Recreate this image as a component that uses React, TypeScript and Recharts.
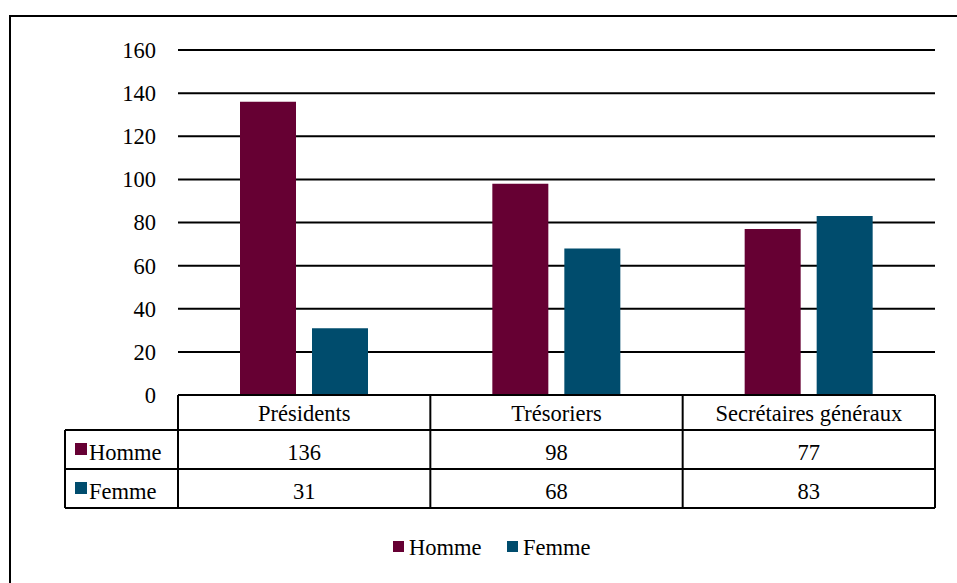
import { BarChart, Bar, YAxis, XAxis, CartesianGrid } from 'recharts';

const categories = ['Présidents', 'Trésoriers', 'Secrétaires généraux'];
const homme = [136, 98, 77];
const femme = [31, 68, 83];
const yTicks = [0, 20, 40, 60, 80, 100, 120, 140, 160];
const seriesNames = ['Homme', 'Femme'];

const W = 957;
const H = 583;
const MAROON = '#660033';
const TEAL = '#004c6d';
const FONT = "'Liberation Serif', 'Times New Roman', 'DejaVu Serif', serif";
const FS = 22.5;

const Y_AXIS_W = 60;
const margin = { top: 50, right: 22, bottom: 188, left: 178 - Y_AXIS_W };

const plotLeft = margin.left + Y_AXIS_W;
const plotRight = W - margin.right;
const plotBottom = H - margin.bottom;
const band = (plotRight - plotLeft) / categories.length;

const data = categories.map((name, i) => ({ name, Homme: homme[i], Femme: femme[i] }));

const txt = { fontFamily: FONT, fontSize: FS };

function DataTable() {
  const rowTop = plotBottom;
  const headerBottom = rowTop + 35;
  const row1Bottom = headerBottom + 39;
  const row2Bottom = row1Bottom + 39;
  const legendLeft = 65;
  const rows = [
    { name: seriesNames[0], color: MAROON, values: homme, top: headerBottom, bottom: row1Bottom },
    { name: seriesNames[1], color: TEAL, values: femme, top: row1Bottom, bottom: row2Bottom },
  ];
  const ln = { stroke: '#000', strokeWidth: 2 };
  return (
    <svg width={W} height={H} style={{ position: 'absolute', left: 0, top: 0 }}>
      <line x1={plotLeft} x2={plotRight} y1={rowTop} y2={rowTop} {...ln} />
      <line x1={legendLeft} x2={plotRight} y1={headerBottom} y2={headerBottom} {...ln} />
      <line x1={legendLeft} x2={plotRight} y1={row1Bottom} y2={row1Bottom} {...ln} />
      <line x1={legendLeft} x2={plotRight} y1={row2Bottom} y2={row2Bottom} {...ln} />
      <line x1={legendLeft} x2={legendLeft} y1={headerBottom} y2={row2Bottom} {...ln} />
      {[0, 1, 2, 3].map((i) => (
        <line key={i} x1={plotLeft + i * band} x2={plotLeft + i * band} y1={rowTop} y2={row2Bottom} {...ln} />
      ))}
      {categories.map((c, i) => (
        <text key={c} x={plotLeft + (i + 0.5) * band} y={headerBottom - 9} textAnchor="middle" fill="#000" style={txt}>
          {c}
        </text>
      ))}
      {rows.map((r) => (
        <g key={r.name}>
          <rect x={legendLeft + 10} y={r.top + 13} width={12} height={12} fill={r.color} />
          <text x={legendLeft + 24} y={r.bottom - 9} fill="#000" style={txt}>
            {r.name}
          </text>
          {r.values.map((v, i) => (
            <text key={i} x={plotLeft + (i + 0.5) * band} y={r.bottom - 9} textAnchor="middle" fill="#000" style={txt}>
              {v}
            </text>
          ))}
        </g>
      ))}
      <g>
        <rect x={393} y={541} width={11} height={11} fill={MAROON} />
        <text x={409} y={555} fill="#000" style={txt}>{seriesNames[0]}</text>
        <rect x={507} y={541} width={11} height={11} fill={TEAL} />
        <text x={523} y={555} fill="#000" style={txt}>{seriesNames[1]}</text>
      </g>
    </svg>
  );
}

export default function App() {
  return (
    <div style={{ position: 'absolute', left: 0, top: 0, width: W, height: H, overflow: 'hidden', background: '#fff' }}>
      <div
        style={{
          position: 'absolute',
          left: 9,
          top: 15,
          width: 1200,
          height: 1200,
          border: '2px solid #000',
          boxSizing: 'border-box',
        }}
      />
      <div style={{ position: 'absolute', left: 0, top: 0 }}>
        <BarChart width={W} height={H} data={data} margin={margin} barCategoryGap={62} barGap={16}>
          <CartesianGrid vertical={false} stroke="#000" strokeWidth={2} />
          <XAxis dataKey="name" hide />
          <YAxis
            width={Y_AXIS_W}
            domain={[0, 160]}
            ticks={yTicks}
            axisLine={false}
            tickLine={false}
            tickSize={0}
            tickMargin={22}
            tick={{ fontSize: FS, fill: '#000', style: txt }}
          />
          <Bar dataKey="Homme" fill={MAROON} isAnimationActive={false} />
          <Bar dataKey="Femme" fill={TEAL} isAnimationActive={false} />
        </BarChart>
      </div>
      <DataTable />
    </div>
  );
}
